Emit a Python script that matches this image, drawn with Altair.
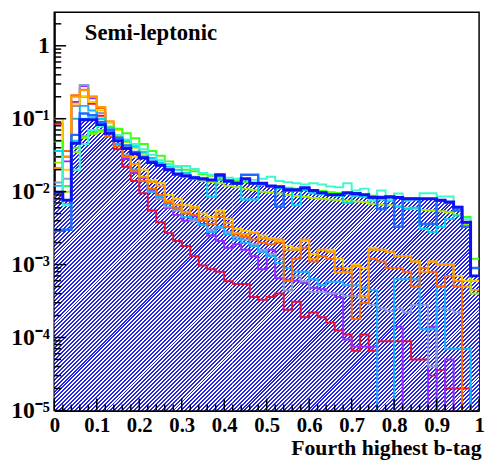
import altair as alt
import pandas as pd
import math

# ---------------- data (bin contents, 50 bins of width 0.02) ----------------
EDGES = [round(0.02 * i, 2) for i in range(51)]

hatched = [0.0098, 0.0076, 0.046, 0.097, 0.097, 0.083, 0.063, 0.050, 0.039, 0.033,
           0.029, 0.025, 0.023, 0.020, 0.0175, 0.0165, 0.0155, 0.015, 0.0145, 0.017,
           0.014, 0.013, 0.015, 0.013, 0.013, 0.012, 0.0117, 0.0106, 0.0106, 0.0113,
           0.0104, 0.0097, 0.0091, 0.0091, 0.0097, 0.0094, 0.0091, 0.0084, 0.0083, 0.0085,
           0.0083, 0.008, 0.008, 0.008, 0.008, 0.0076, 0.0072, 0.0061, 0.0038, 0.0007]

royal = [0.0029, 0.003, 0.06, 0.118, 0.112, 0.09, 0.07, 0.055, 0.043, 0.035,
         0.03, 0.026, 0.023, 0.020, 0.0172, 0.0162, 0.0152, 0.0148, 0.0143, 0.0165,
         0.0138, 0.0128, 0.017, 0.017, 0.0128, 0.0118, 0.0062, 0.0104, 0.0104, 0.011,
         0.0102, 0.0095, 0.009, 0.009, 0.0095, 0.0092, 0.009, 0.0083, 0.0058, 0.0084,
         0.0033, 0.0079, 0.0079, 0.0036, 0.0036, 0.0075, 0.0071, 0.0055, 0.0033, 0.0009]

aqua = [0.030, 0.0065, 0.02, 0.045, 0.07, 0.078, 0.07, 0.06, 0.052, 0.045,
        0.038, 0.032, 0.027, 0.024, 0.0225, 0.0225, 0.0205, 0.018, 0.017, 0.0165,
        0.0155, 0.015, 0.0145, 0.0145, 0.015, 0.016, 0.014, 0.0135, 0.013, 0.0125,
        0.013, 0.0125, 0.0118, 0.0115, 0.013, 0.0104, 0.011, 0.0075, 0.0104, 0.0078,
        0.0094, 0.0075, 0.0078, 0.0095, 0.0095, 0.0086, 0.0086, 0.006, 0.0042, 0.0009]

cyan = [0.036, 0.0067, 0.05, 0.1, 0.105, 0.1, 0.075, 0.06, 0.05, 0.042,
        0.035, 0.029, 0.025, 0.022, 0.02, 0.018, 0.016, 0.015, 0.0085, 0.0145,
        0.0135, 0.013, 0.0078, 0.0078, 0.0125, 0.012, 0.011, 0.011, 0.0065, 0.0105,
        0.0095, 0.0092, 0.009, 0.0088, 0.007, 0.0088, 0.0085, 0.008, 0.0078, 0.0075,
        0.0062, 0.0058, 0.006, 0.0031, 0.0028, 0.0033, 0.0042, 0.0047, 0.0038, 0.0009]

green = [0.049, 0.012, 0.04, 0.058, 0.065, 0.07, 0.078, 0.073, 0.063, 0.054,
         0.045, 0.036, 0.031, 0.026, 0.022, 0.020, 0.019, 0.0175, 0.0165, 0.0155,
         0.0145, 0.014, 0.0135, 0.013, 0.0125, 0.012, 0.0118, 0.0113, 0.011, 0.0108,
         0.0105, 0.0102, 0.0098, 0.0096, 0.0095, 0.0092, 0.009, 0.0088, 0.0086, 0.0085,
         0.0084, 0.0082, 0.0082, 0.008, 0.0079, 0.0077, 0.0072, 0.0062, 0.0045, 0.0012]

lime = [0.025, 0.01, 0.035, 0.055, 0.062, 0.066, 0.065, 0.057, 0.048, 0.04,
        0.033, 0.028, 0.024, 0.02, 0.0175, 0.016, 0.015, 0.014, 0.0135, 0.013,
        0.012, 0.0115, 0.011, 0.0105, 0.01, 0.0097, 0.0094, 0.009, 0.0087, 0.0085,
        0.0082, 0.008, 0.0078, 0.0076, 0.0075, 0.0073, 0.0072, 0.0068, 0.0066, 0.0065,
        0.0063, 0.006, 0.0058, 0.0056, 0.0055, 0.0054, 0.0052, 0.0048, 0.0035, 0.0004]

yellow = [0.1, 0.02, 0.16, 0.2, 0.17, 0.13, 0.087, 0.07, 0.048, 0.03,
          0.02, 0.0145, 0.013, 0.009, 0.008, 0.0065, 0.0062, 0.005, 0.0045, 0.0055,
          0.0042, 0.0031, 0.0029, 0.0028, 0.0025, 0.0023, 0.0021, 0.0018, 0.0017, 0.0021,
          0.0014, 0.0016, 0.0016, 0.0012, 0.0009, 0.001, 0.0009, 0.0017, 0.0016, 0.0015,
          0.0013, 0.0013, 0.0011, 0.0009, 0.0011, 0.001, 0.001, 0.0007, 0.0006, 0.0006]

orange = [0.021, 0.03, 0.2, 0.245, 0.2, 0.145, 0.092, 0.060, 0.040, 0.024,
          0.016, 0.0135, 0.012, 0.0075, 0.0066, 0.0053, 0.006, 0.0044, 0.0041, 0.005,
          0.0037, 0.0027, 0.0026, 0.0027, 0.0023, 0.0022, 0.0022, 0.0016, 0.0016, 0.0022,
          0.0012, 0.0016, 0.0015, 0.00078, 0.00078, 0.00095, 0.00037, 0.0016, 0.0016, 0.0015,
          0.0013, 0.0013, 0.0011, 0.0008, 0.0011, 0.001, 0.001, 0.0006, 0.0005, 0.00045]

darkorange = [0.021, 0.036, 0.21, 0.25, 0.2, 0.14, 0.057, 0.042, 0.03, 0.019,
              0.014, 0.011, 0.009, 0.007, 0.006, 0.005, 0.0048, 0.004, 0.0036, 0.0045,
              0.0033, 0.0026, 0.0024, 0.0022, 0.002, 0.0019, 0.002, 0.0006, 0.0012, 0.0017,
              0.0011, 0.0013, 0.0012, 0.0009, 0.0008, 0.00018, 0.0003, 0.0012, 0.0011, 0.0009,
              0.0009, 0.0008, 0.0005, 0.0009, 0.0008, 0.0005, 0.0007, 0.0005, 0, 0]

greyblue = [0.0133, 0.015, 0.15, 0.29, 0.2, 0.12, 0.075, 0.05, 0.032, 0.02,
            0.014, 0.01, 0.008, 0.0062, 0.0055, 0.0045, 0.004, 0.0035, 0.003, 0.0032,
            0.0028, 0.0024, 0.0022, 0.0019, 0.0016, 0.0014, 0.0012, 0.00044, 0.00069, 0.00059,
            0.00042, 0.00042, 0.0004, 0.0004, 0.00037, 0.00037, 0.00034, 0.00028, 0.00025, 0.00023,
            0.00025, 0.00022, 0.00028, 0.00028, 0.00004, 0.00025, 0.00024, 0.00022, 0, 0]

skyblue = [0.012, 0.012, 0.1, 0.15, 0.13, 0.1, 0.07, 0.045, 0.03, 0.02,
           0.014, 0.01, 0.0085, 0.0068, 0.0058, 0.0045, 0.0042, 0.0035, 0.0028, 0.0033,
           0.0026, 0.0022, 0.002, 0.0018, 0.0015, 0.0013, 0.00105, 0.0009, 0.0008, 0.0008,
           0.00063, 0.00052, 0.00058, 0.00058, 0.00052, 0.00052, 0.00048, 0.00045, 0, 0,
           0.00063, 0.00063, 0.00063, 0.00013, 0.00013, 0.0005, 0.00007, 0.00007, 0.00007, 0]

purple = [0.008, 0.026, 0.17, 0.28, 0.19, 0.12, 0.07, 0.045, 0.028, 0.018,
          0.0155, 0.0105, 0.008, 0.006, 0.0048, 0.004, 0.0046, 0.0036, 0.0025, 0.0021,
          0.0017, 0.0019, 0.0016, 0.0013, 0.00086, 0.0016, 0.00065, 0.00062, 0.0006, 0.00056,
          0.00048, 0.00046, 0.0004, 0.00036, 0.000094, 0.000075, 0.000075, 0.000075, 0, 0,
          0.00014, 0, 0, 0, 0.00014, 0, 0.00005, 0, 0, 0]

red = [0.085, 0.03, 0.15, 0.2, 0.16, 0.11, 0.065, 0.038, 0.022, 0.014,
       0.0095, 0.0055, 0.0038, 0.0027, 0.0021, 0.0018, 0.0013, 0.00097, 0.00086, 0.0008,
       0.00059, 0.00054, 0.00054, 0.00036, 0.00033, 0.00036, 0.0004, 0.00024, 0.00031, 0.00019,
       0.00022, 0.00019, 0.00016, 0.000125, 0.00011, 0.000066, 0.00011, 0.000066, 0.000089, 0.000089,
       0.000089, 0.000089, 0.00005, 0.00005, 0.00003, 0.000036, 0.00002, 0.00002, 0.00002, 0]

Y_TICKS_MAJOR = [1e-5, 1e-4, 1e-3, 1e-2, 1e-1, 1.0]
X_TICKS_MAJOR = [round(0.1 * i, 1) for i in range(11)]
TITLE = "Semi-leptonic"
X_TITLE = "Fourth highest b-tag"

# ---------------- layout / style ----------------
W, H = 431, 404
YMIN, YMAX = 1e-5, 2.88
FONT = "Liberation Serif"
HATCH_BLUE = "#2424e8"

xscale = alt.Scale(domain=[0, 1], nice=False, zero=False)
yscale = alt.Scale(type="log", domain=[YMIN, YMAX], nice=False)


def table(vals, lo=0, hi=50):
    v = [x if x > 0 else 1e-7 for x in vals[lo:hi]]
    return pd.DataFrame({"x": EDGES[lo:hi + 1], "y": v + [v[-1]]})


sup = {1: "⁻¹", 2: "⁻²", 3: "⁻³", 4: "⁻⁴", 5: "⁻⁵"}
label_expr = ("datum.value >= 0.5 ? '1' : datum.value >= 0.05 ? '10%s' : "
              "datum.value >= 0.005 ? '10%s' : datum.value >= 0.0005 ? '10%s' : "
              "datum.value >= 0.00005 ? '10%s' : '10%s'") % (sup[1], sup[2], sup[3], sup[4], sup[5])

xaxis = alt.Axis(values=X_TICKS_MAJOR, format="~g", ticks=False, grid=False,
                 domain=True, domainColor="black", domainWidth=2,
                 labelFont=FONT, labelFontWeight="bold", labelFontSize=21,
                 labelColor="black", labelPadding=4, labelFlush=False,
                 labelOverlap=False, labelBound=False,
                 title=X_TITLE, titleFont=FONT, titleFontWeight="bold",
                 titleFontSize=22, titleColor="black", titleAnchor="end",
                 titleAlign="right", titleX=W + 2, titlePadding=3)
yaxis = alt.Axis(values=Y_TICKS_MAJOR, labelExpr=label_expr, ticks=False, grid=False,
                 domain=True, domainColor="black", domainWidth=2,
                 labelFont=FONT, labelFontWeight="bold", labelFontSize=24,
                 labelColor="black", labelPadding=5, labelOverlap=False,
                 labelFlush=False, title=None)

X = alt.X("x:Q", scale=xscale, axis=xaxis)
Y = alt.Y("y:Q", scale=yscale, axis=yaxis)


# ---- hatch: striped gradients, one per slab of bins, phase-locked to the screen ----
def ypx(v):
    return H * (math.log10(YMAX) - math.log10(v)) / (math.log10(YMAX) - math.log10(YMIN))


PERIOD = 4.0 / math.sqrt(2)   # stripe spacing perpendicular (4 px horizontally)
NTEX = 256                    # gradient resolution of the rasteriser
L = NTEX / 2 * PERIOD         # gradient length so one stripe = 2 ramp cells

stops = []
for j in range(NTEX // 2):
    a, b, c = 2 * j / NTEX, (2 * j + 1) / NTEX, (2 * j + 2) / NTEX
    stops += [alt.GradientStop(color=HATCH_BLUE, offset=a),
              alt.GradientStop(color=HATCH_BLUE, offset=b),
              alt.GradientStop(color="#ffffff", offset=b),
              alt.GradientStop(color="#ffffff", offset=c)]

layers = []
for lo, hi in [(0, 21), (21, 50)]:
    x0 = W * EDGES[lo]
    wk = W * (EDGES[hi] - EDGES[lo])
    y0 = ypx(max(hatched[lo:hi]))
    hk = H - y0
    r = hk / wk
    k = math.sqrt(2) * L / (wk * (1 + r * r))
    u_corner = (x0 + y0) / math.sqrt(2)
    q0 = math.floor(u_corner / PERIOD) * PERIOD
    d = q0 - u_corner
    gx1 = d * math.sqrt(2) / wk
    grad = alt.LinearGradient(gradient="linear", stops=stops,
                              x1=gx1, y1=0, x2=gx1 + k, y2=k * r)
    layers.append(
        alt.Chart(table(hatched, lo, hi)).mark_area(interpolate="step-after", fill=grad, clip=True)
        .encode(x=X, y=Y, y2=alt.datum(YMIN))
    )

series = [
    (red, "#e8102e", 2),
    (purple, "#9a28ff", 2),
    (greyblue, "#8c9cd0", 2),
    (skyblue, "#14b4ff", 2),
    (yellow, "#ffcc00", 2),
    (darkorange, "#ff6a00", 2),
    (orange, "#ff9a00", 2),
    (lime, "#a6e800", 2),
    (green, "#3cff14", 2),
    (cyan, "#00d8e8", 2),
    (aqua, "#40f8d0", 2),
    (royal, "#1e6cff", 2.5),
    (hatched, "#1010f0", 3),
]
for vals, col, sw in series:
    layers.append(
        alt.Chart(table(vals)).mark_line(interpolate="step-after", color=col,
                                         strokeWidth=sw, strokeJoin="miter",
                                         strokeCap="square", clip=True)
        .encode(x=X, y=Y)
    )

# inward ROOT-style ticks
y_minor = [m * 10 ** e for e in range(-5, 0) for m in range(2, 10) if m * 10 ** e < YMAX]
y_minor += [2.0]
x_minor = [round(0.02 * i, 2) for i in range(51) if i % 5 != 0]
layers.append(alt.Chart(pd.DataFrame({"y": Y_TICKS_MAJOR})).mark_rule(color="black", strokeWidth=1.5)
              .encode(y=Y, x=alt.value(0), x2=alt.value(12)))
layers.append(alt.Chart(pd.DataFrame({"y": y_minor})).mark_rule(color="black", strokeWidth=1.5)
              .encode(y=Y, x=alt.value(0), x2=alt.value(7)))
layers.append(alt.Chart(pd.DataFrame({"x": X_TICKS_MAJOR})).mark_rule(color="black", strokeWidth=1.5)
              .encode(x=X, y=alt.value(H), y2=alt.value(H - 12)))
layers.append(alt.Chart(pd.DataFrame({"x": x_minor})).mark_rule(color="black", strokeWidth=1.5)
              .encode(x=X, y=alt.value(H), y2=alt.value(H - 6)))

layers.append(
    alt.Chart(pd.DataFrame({"t": [TITLE]})).mark_text(font=FONT, fontWeight="bold", fontSize=23,
                                                      align="left", baseline="alphabetic",
                                                      color="black")
    .encode(text="t:N", x=alt.value(31), y=alt.value(28))
)

chart = (alt.layer(*layers)
         .properties(width=W, height=H,
                     autosize=alt.AutoSizeParams(type="none"),
                     padding={"left": 47, "top": 1, "right": 6, "bottom": 50},
                     background="white")
         .configure_view(stroke="black", strokeWidth=1.5))

chart.save("out.html", embed_options={"renderer": "svg", "actions": False})
